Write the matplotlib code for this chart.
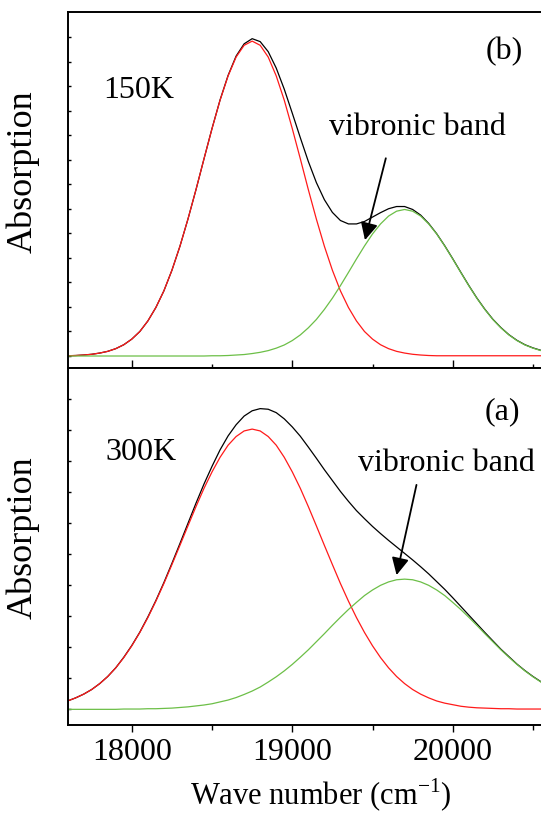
import matplotlib
matplotlib.use('Agg')
import matplotlib.pyplot as plt
from matplotlib.ticker import MultipleLocator, FixedLocator

plt.rcParams['font.family'] = ['Liberation Serif', 'DejaVu Serif']
plt.rcParams['mathtext.fontset'] = 'custom'
plt.rcParams['mathtext.rm'] = 'Liberation Serif'

# wave number grid, cm-1 (read every 50 cm-1)
wavenumber = list(range(17600, 20551, 50))

# (b) 150K: measured absorption and the two fitted bands
abs_150K = [0.01, 0.02, 0.04, 0.07, 0.12, 0.19, 0.30, 0.46, 0.69, 1.00,
            1.43, 1.98, 2.66, 3.50, 4.48, 5.59, 6.79, 8.05, 9.29, 10.45,
            11.45, 12.24, 12.74, 12.95, 12.83, 12.42, 11.75, 10.89, 9.91, 8.91,
            7.94, 7.08, 6.38, 5.86, 5.53, 5.39, 5.39, 5.49, 5.67, 5.85,
            6.01, 6.10, 6.10, 5.98, 5.75, 5.41, 4.99, 4.50, 3.97, 3.42,
            2.88, 2.37, 1.91, 1.50, 1.16, 0.87, 0.64, 0.46, 0.33, 0.23]
main_150K = [0.01, 0.02, 0.04, 0.07, 0.12, 0.19, 0.30, 0.46, 0.69, 1.00,
             1.43, 1.98, 2.66, 3.50, 4.48, 5.59, 6.79, 8.05, 9.28, 10.44,
             11.43, 12.20, 12.68, 12.85, 12.68, 12.20, 11.43, 10.44, 9.28, 8.05,
             6.79, 5.59, 4.48, 3.50, 2.66, 1.98, 1.43, 1.00, 0.69, 0.46,
             0.30, 0.19, 0.12, 0.07, 0.04, 0.02, 0.01, 0.01, 0.01, 0.01,
             0.01, 0.01, 0.01, 0.01, 0.01, 0.01, 0.01, 0.01, 0.01, 0.01]
vib_150K = [0.00, 0.00, 0.00, 0.00, 0.00, 0.00, 0.00, 0.00, 0.00, 0.00,
            0.00, 0.00, 0.00, 0.00, 0.00, 0.00, 0.00, 0.00, 0.01, 0.01,
            0.02, 0.04, 0.06, 0.10, 0.15, 0.22, 0.32, 0.45, 0.63, 0.86,
            1.15, 1.49, 1.90, 2.36, 2.87, 3.41, 3.96, 4.49, 4.98, 5.39,
            5.71, 5.91, 5.98, 5.91, 5.71, 5.39, 4.98, 4.49, 3.96, 3.41,
            2.87, 2.36, 1.90, 1.49, 1.15, 0.86, 0.63, 0.45, 0.32, 0.22]

# (a) 300K
abs_300K = [0.27, 0.37, 0.49, 0.64, 0.83, 1.06, 1.34, 1.68, 2.06, 2.49,
            2.98, 3.51, 4.09, 4.71, 5.35, 6.00, 6.65, 7.27, 7.84, 8.37,
            8.82, 9.18, 9.46, 9.63, 9.70, 9.68, 9.57, 9.37, 9.11, 8.81,
            8.46, 8.10, 7.73, 7.38, 7.03, 6.71, 6.41, 6.15, 5.90, 5.67,
            5.45, 5.24, 5.03, 4.82, 4.60, 4.37, 4.12, 3.87, 3.60, 3.32,
            3.04, 2.76, 2.48, 2.21, 1.94, 1.70, 1.46, 1.25, 1.06, 0.89]
main_300K = [0.27, 0.37, 0.49, 0.64, 0.83, 1.06, 1.34, 1.67, 2.05, 2.48,
             2.96, 3.49, 4.06, 4.67, 5.29, 5.92, 6.54, 7.13, 7.66, 8.13,
             8.52, 8.80, 8.98, 9.04, 8.98, 8.80, 8.52, 8.13, 7.66, 7.13,
             6.54, 5.92, 5.29, 4.67, 4.06, 3.49, 2.96, 2.48, 2.05, 1.67,
             1.34, 1.06, 0.83, 0.64, 0.49, 0.37, 0.27, 0.20, 0.15, 0.10,
             0.07, 0.05, 0.04, 0.03, 0.02, 0.02, 0.01, 0.01, 0.01, 0.01]
vib_300K = [0.00, 0.00, 0.00, 0.00, 0.00, 0.00, 0.00, 0.01, 0.01, 0.01,
            0.02, 0.02, 0.03, 0.04, 0.06, 0.08, 0.11, 0.14, 0.18, 0.24,
            0.30, 0.38, 0.48, 0.59, 0.72, 0.88, 1.05, 1.24, 1.45, 1.68,
            1.92, 2.18, 2.44, 2.71, 2.97, 3.22, 3.45, 3.67, 3.85, 4.00,
            4.11, 4.18, 4.20, 4.18, 4.11, 4.00, 3.85, 3.67, 3.45, 3.22,
            2.97, 2.71, 2.44, 2.18, 1.92, 1.68, 1.45, 1.24, 1.05, 0.88]

red = '#ff1a1a'
green = '#6cbf47'
fs = 23

fig = plt.figure(figsize=(5.41, 8.14), dpi=100)
ax_b = fig.add_axes([0.125, 0.5479, 0.875, 0.4377])
ax_a = fig.add_axes([0.125, 0.1093, 0.875, 0.4386])

panels = [(ax_b, abs_150K, main_150K, vib_150K, (-0.49, 14.05), 13),
          (ax_a, abs_300K, main_300K, vib_300K, (-0.506, 11.01), 10)]

for ax, total, main, vib, ylim, ntick in panels:
    ax.plot(wavenumber, total, color='black', lw=0.9)
    ax.plot(wavenumber, main, color=red, lw=0.9)
    ax.plot(wavenumber, vib, color=green, lw=0.9)
    ax.set_xlim(17600, 20550)
    ax.set_ylim(*ylim)
    ax.xaxis.set_major_locator(MultipleLocator(1000))
    ax.xaxis.set_minor_locator(MultipleLocator(500))
    ax.yaxis.set_major_locator(FixedLocator(list(range(0, ntick + 1))))
    ax.tick_params(axis='y', which='both', direction='in', length=2.5, width=1,
                   labelleft=False, right=False)
    ax.spines['right'].set_visible(False)
    for s in ['left', 'bottom', 'top']:
        ax.spines[s].set_linewidth(1.4)

# y labels sit a bit above the middle of each panel
fig.text(23 / 541, 1 - 172 / 814, 'Absorption', rotation=90, fontsize=26,
         ha='center', va='center')
fig.text(23 / 541, 1 - 538 / 814, 'Absorption', rotation=90, fontsize=26,
         ha='center', va='center')

# top panel: ticks point up from the shared edge, no labels
ax_b.tick_params(axis='x', which='major', direction='in', length=5.5, width=1,
                 labelbottom=False, top=False)
ax_b.tick_params(axis='x', which='minor', direction='in', length=3, width=1, top=False)

ax_a.tick_params(axis='x', which='major', direction='out', length=5.3, width=1,
                 labelsize=fs, pad=4, top=False)
ax_a.tick_params(axis='x', which='minor', direction='out', length=3.6, width=1, top=False)
ax_a.set_xlabel(r'Wave number (cm$^{\mathrm{-1}}$)', fontsize=22, va='baseline')
ax_a.xaxis.set_label_coords(0.535, -0.224)

# labels and arrows
ax_b.text(0.0746, 0.758, '150K', transform=ax_b.transAxes, fontsize=fs,
          ha='left', va='baseline')
ax_b.text(0.922, 0.887, '(b)', transform=ax_b.transAxes, fontsize=fs,
          ha='center', va='center')
ax_b.text(0.739, 0.654, 'vibronic band', transform=ax_b.transAxes, fontsize=fs,
          ha='center', va='baseline')
ax_b.annotate('', xy=(19453, 4.73), xytext=(19583, 8.07),
              arrowprops=dict(arrowstyle='-|>', color='black', lw=1.3,
                              mutation_scale=26, shrinkA=0, shrinkB=0))

ax_a.text(0.079, 0.742, '300K', transform=ax_a.transAxes, fontsize=fs,
          ha='left', va='baseline')
ax_a.text(0.918, 0.877, '(a)', transform=ax_a.transAxes, fontsize=fs,
          ha='center', va='center')
ax_a.text(0.800, 0.712, 'vibronic band', transform=ax_a.transAxes, fontsize=fs,
          ha='center', va='baseline')
ax_a.annotate('', xy=(19650, 4.33), xytext=(19774, 7.24),
              arrowprops=dict(arrowstyle='-|>', color='black', lw=1.3,
                              mutation_scale=26, shrinkA=0, shrinkB=0))

fig.savefig('out.png', dpi=100)
